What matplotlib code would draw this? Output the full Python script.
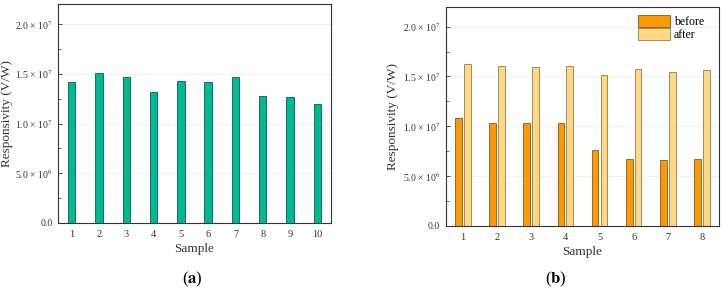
import numpy as np
import matplotlib
matplotlib.use("Agg")
import matplotlib.pyplot as plt

plt.rcParams['font.family'] = ['Liberation Serif', 'DejaVu Serif']
plt.rcParams['mathtext.fontset'] = 'stix'

# panel (a)
samples_a = np.arange(1, 11)
resp_a = [1.42e7, 1.508e7, 1.467e7, 1.317e7, 1.43e7, 1.417e7, 1.467e7, 1.276e7, 1.266e7, 1.196e7]

# panel (b)
samples_b = np.arange(1, 9)
resp_before = [1.078e7, 1.028e7, 1.035e7, 1.028e7, 0.761e7, 0.674e7, 0.664e7, 0.674e7]
resp_after = [1.629e7, 1.606e7, 1.596e7, 1.606e7, 1.516e7, 1.576e7, 1.546e7, 1.566e7]

yticks = [0, 5e6, 1e7, 1.5e7, 2e7]
ylabels = ['0.0', r'5.0 × 10$^{6}$', r'1.0 × 10$^{7}$', r'1.5 × 10$^{7}$', r'2.0 × 10$^{7}$']

fig = plt.figure(figsize=(7.25, 2.91), dpi=100)
ax1 = fig.add_axes([0.080, 0.234, 0.3766, 0.751])
ax2 = fig.add_axes([0.615, 0.224, 0.3767, 0.753])


def style(ax, n, ylx):
    ax.set_xlim(0.5, n + 0.5)
    ax.set_ylim(0, 2.2e7)
    ax.set_xticks(np.arange(1, n + 1))
    ax.set_yticks(yticks)
    ax.set_yticklabels(ylabels)
    ax.set_yticks([2.5e6, 7.5e6, 1.25e7, 1.75e7], minor=True)
    ax.tick_params(axis='y', which='major', direction='in', length=3, width=0.6,
                   labelsize=7, pad=4, colors='#333333')
    ax.tick_params(axis='y', which='minor', direction='in', length=2, width=0.5,
                   colors='#333333')
    ax.tick_params(axis='x', length=0, labelsize=7.5, pad=5, colors='#333333')
    ax.grid(axis='y', color='#eeeeee', linewidth=0.6)
    ax.set_axisbelow(True)
    for s in ax.spines.values():
        s.set_color('#333333')
        s.set_linewidth(0.8)
    ax.set_xlabel('Sample', fontsize=9.5, color='#333333', labelpad=3)
    ax.set_ylabel('Responsivity (V/W)', fontsize=9.5, color='#333333')
    ax.yaxis.set_label_coords(ylx, 0.5)


ax1.bar(samples_a, resp_a, width=0.27, color='#00b894', edgecolor='#1a6e5c', linewidth=0.7)
style(ax1, 10, -0.165)

w = 0.2
ax2.bar(samples_b - 0.13, resp_before, width=w, color='#ff9900', edgecolor='#7a5a30',
        linewidth=0.6, label='before')
ax2.bar(samples_b + 0.13, resp_after, width=w, color='#ffd880', edgecolor='#8a7a60',
        linewidth=0.6, label='after')
style(ax2, 8, -0.17)
ax2.legend(loc='upper right', fontsize=8.5, frameon=False, handlelength=2.7,
           handleheight=1.2, handletextpad=0.3, labelspacing=0.0,
           borderaxespad=0.3, bbox_to_anchor=(0.975, 1.0))

fig.text(0.266, 0.025, r'($\mathbf{a}$)', ha='center', fontsize=12)
fig.text(0.766, 0.025, r'($\mathbf{b}$)', ha='center', fontsize=12)

fig.savefig('out.png', dpi=100)
